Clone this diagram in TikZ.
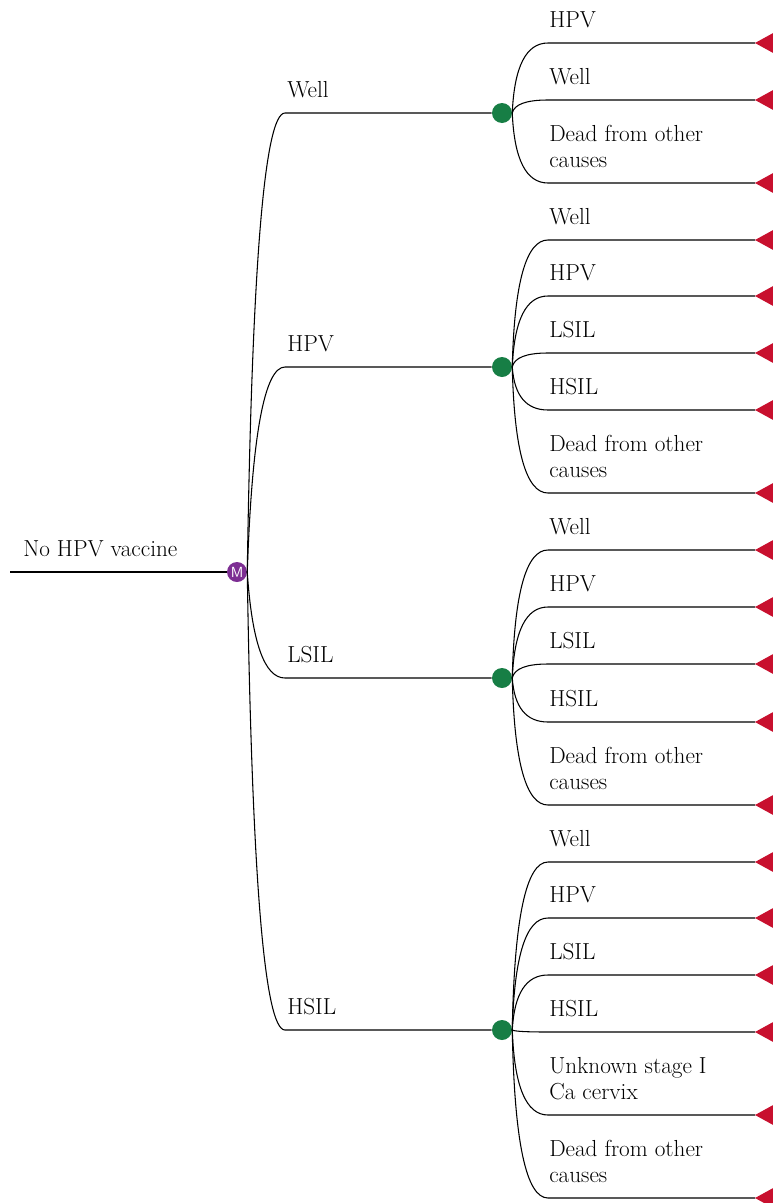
\documentclass[tikz,border=0pt]{standalone}
\usetikzlibrary{calc}

\definecolor{markovpurple}{HTML}{7D2E93}
\definecolor{chancegreen}{HTML}{177E45}
\definecolor{termred}{HTML}{C8102E}

\tikzset{branch/.style={line width=0.8pt,black},
markov node/.style={circle,fill=markovpurple,text=white,inner sep=0pt,minimum size=15pt,font=\sffamily\fontsize{11}{11}\selectfont},
chance node/.style={circle,fill=chancegreen,inner sep=0pt,minimum size=15pt},
terminal/.style={fill=termred},
branch label/.style={anchor=south west,inner sep=0pt,align=left,font=\fontsize{17.4}{19.5}\selectfont}}

\begin{document}
\begin{tikzpicture}[x=0.75pt,y=-0.75pt]
\useasboundingbox (0,0) rectangle (773,1203);

%% Coordinates of nodes.
\coordinate (r0) at (10,572);
\node [markov node] (m) at (237,572) {M};
\coordinate (a1) at (285,113);
\coordinate (a2) at (285,367);
\coordinate (a3) at (285,678);
\coordinate (a4) at (285,1030);
\node [chance node] (c1) at (502,113) {};
\node [chance node] (c2) at (502,367) {};
\node [chance node] (c3) at (502,678) {};
\node [chance node] (c4) at (502,1030) {};

%% root and markov branches (quadratic bends through q)
\draw [branch] (r0) -- (m);
\node [branch label] (l0) at ([shift={(13,-15)}]r0) {No HPV vaccine};
\foreach \k/\txt in {1/Well,2/HPV,3/LSIL,4/HSIL}{
  \path (m.east |- a\k) ++(7,0) coordinate (q\k);
  \draw [branch] (m.east) .. controls ($(m.east)!2/3!(q\k)$) and ($(a\k)!2/3!(q\k)$) .. (a\k) -- (c\k);
  \node [branch label] (l\k) at ([shift={(2,-15)}]a\k) {\txt};
}

%% leaf branches: chance node / number / y / label
\foreach \k/\j/\y/\txt in {
  1/1/43/HPV, 1/2/100/Well, 1/3/183/{Dead from other\\causes},
  2/1/240/Well, 2/2/296/HPV, 2/3/353/LSIL, 2/4/410/HSIL, 2/5/493/{Dead from other\\causes},
  3/1/550/Well, 3/2/607/HPV, 3/3/664/LSIL, 3/4/722/HSIL, 3/5/805/{Dead from other\\causes},
  4/1/862/Well, 4/2/918/HPV, 4/3/975/LSIL, 4/4/1032/HSIL, 4/5/1115/{Unknown stage I\\Ca cervix},
  4/6/1198/{Dead from other\\causes}}{
  \coordinate (b\k\j) at (548,\y);
  \coordinate (t\k\j) at (755,\y);
  \path (c\k.east |- b\k\j) ++(3,0) coordinate (q\k\j);
  \draw [branch] (c\k.east) .. controls ($(c\k.east)!2/3!(q\k\j)$) and ($(b\k\j)!2/3!(q\k\j)$) .. (b\k\j) -- (t\k\j);
  \fill [terminal] (t\k\j) -- ++(20,-11) -- ++(0,22) -- cycle;
  \node [branch label] (l\k\j) at ([shift={(1,-15)}]b\k\j) {\txt};
}

\end{tikzpicture}
\end{document}
